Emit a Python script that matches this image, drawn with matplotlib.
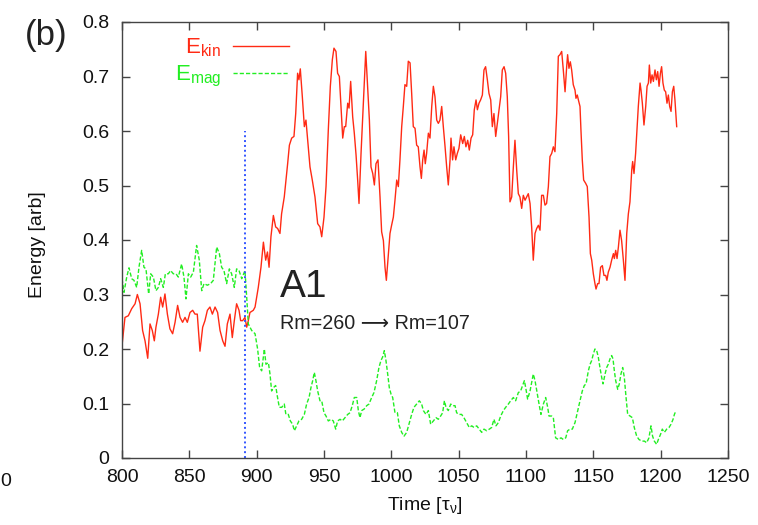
import matplotlib
matplotlib.use("Agg")
import matplotlib.pyplot as plt
from matplotlib.ticker import FuncFormatter

plt.rcParams["font.family"] = ["Liberation Sans", "DejaVu Sans"]
plt.rcParams["mathtext.fontset"] = "custom"
plt.rcParams["mathtext.rm"] = "Liberation Sans"
plt.rcParams["mathtext.it"] = "Liberation Sans:italic"

# ---- data ----
t_kin = [800.0, 802.2, 804.7, 807.2, 809.7, 811.4, 813.4, 815.3, 817.1, 819.1,
         820.8, 822.5, 824.0, 825.2, 827.0, 828.7, 830.2, 831.9, 833.7, 835.6,
         837.6, 839.4, 841.3, 843.1, 845.0, 846.8, 848.5, 850.5, 852.5, 854.2,
         855.9, 857.9, 859.9, 861.6, 863.4, 865.3, 867.1, 869.1, 871.0, 872.8,
         874.8, 876.5, 878.2, 880.2, 881.9, 883.4, 885.1, 886.9, 888.1, 889.6,
         891.3, 892.6, 893.8, 895.0, 897.5, 898.8, 901.2, 903.2, 905.0, 906.7,
         908.0, 909.2, 910.6, 912.4, 914.1, 915.6, 917.3, 918.5, 920.5, 921.8,
         923.0, 924.3, 926.0, 927.7, 929.0, 930.4, 931.4, 932.4, 933.9, 935.4,
         936.6, 937.9, 939.6, 941.3, 943.3, 945.3, 947.0, 948.3, 950.0, 951.5,
         953.2, 954.7, 956.2, 957.4, 958.9, 960.1, 961.4, 962.6, 963.9, 965.1,
         966.1, 967.6, 968.6, 969.8, 971.3, 972.5, 973.8, 975.0, 976.0, 977.5,
         979.2, 981.0, 982.4, 983.7, 984.9, 986.2, 987.4, 988.6, 990.1, 991.6,
         992.8, 994.1, 995.3, 996.3, 997.8, 999.0, 1000.2, 1001.5, 1002.7, 1004.0,
         1005.2, 1006.4, 1007.7, 1008.9, 1010.1, 1011.4, 1012.6, 1013.9, 1015.1, 1016.3,
         1017.6, 1018.8, 1020.0, 1021.3, 1022.3, 1023.3, 1024.3, 1025.2, 1026.2, 1027.5,
         1028.7, 1030.0, 1031.2, 1032.4, 1033.7, 1034.9, 1036.1, 1037.4, 1038.6, 1039.9,
         1041.1, 1042.3, 1043.6, 1044.3, 1045.5, 1046.5, 1047.8, 1049.0, 1050.2, 1051.5,
         1053.0, 1054.2, 1055.4, 1056.7, 1057.9, 1059.2, 1060.4, 1061.6, 1062.9, 1063.9,
         1065.1, 1066.3, 1067.6, 1068.8, 1070.0, 1071.3, 1072.5, 1073.8, 1075.0, 1076.2,
         1077.5, 1078.7, 1079.9, 1081.2, 1082.4, 1083.7, 1084.9, 1086.1, 1087.1, 1088.1,
         1089.4, 1090.6, 1091.8, 1093.1, 1094.3, 1095.5, 1096.8, 1098.0, 1099.3, 1100.5,
         1101.7, 1103.0, 1104.2, 1105.4, 1106.7, 1107.9, 1109.2, 1110.4, 1111.6, 1112.9,
         1114.1, 1115.3, 1116.6, 1117.8, 1119.1, 1120.3, 1121.5, 1122.8, 1124.0, 1125.2,
         1126.5, 1127.7, 1129.0, 1130.2, 1130.9, 1131.9, 1132.9, 1133.9, 1135.1, 1136.4,
         1137.1, 1138.1, 1138.9, 1140.1, 1140.8, 1141.8, 1142.8, 1144.3, 1145.5, 1146.8,
         1147.8, 1148.8, 1150.0, 1151.2, 1152.0, 1153.2, 1154.2, 1155.4, 1156.7, 1157.9,
         1159.2, 1160.1, 1161.1, 1162.4, 1163.6, 1164.9, 1165.6, 1166.6, 1167.6, 1168.6,
         1169.8, 1171.0, 1172.3, 1173.5, 1174.8, 1176.0, 1177.2, 1178.5, 1179.2, 1180.2,
         1181.4, 1182.4, 1183.4, 1184.7, 1185.4, 1186.4, 1187.6, 1188.9, 1189.9, 1190.9,
         1191.6, 1192.6, 1193.6, 1194.6, 1195.8, 1196.8, 1197.8, 1198.8, 1199.8, 1200.7,
         1201.7, 1202.7, 1203.7, 1204.7, 1205.7, 1206.7, 1207.7, 1208.7, 1209.7, 1210.6,
         1211.9]
e_kin = [0.206, 0.258, 0.261, 0.274, 0.283, 0.300, 0.283, 0.234, 0.215, 0.183,
         0.246, 0.234, 0.215, 0.240, 0.264, 0.295, 0.277, 0.301, 0.264, 0.237,
         0.228, 0.249, 0.280, 0.258, 0.249, 0.258, 0.249, 0.267, 0.271, 0.264,
         0.264, 0.196, 0.240, 0.252, 0.271, 0.277, 0.264, 0.277, 0.267, 0.234,
         0.215, 0.205, 0.246, 0.264, 0.221, 0.252, 0.283, 0.271, 0.252, 0.252,
         0.258, 0.240, 0.252, 0.267, 0.271, 0.277, 0.313, 0.350, 0.396, 0.363,
         0.378, 0.350, 0.406, 0.445, 0.424, 0.421, 0.412, 0.448, 0.479, 0.510,
         0.540, 0.574, 0.587, 0.590, 0.632, 0.706, 0.694, 0.714, 0.663, 0.608,
         0.620, 0.583, 0.534, 0.510, 0.479, 0.430, 0.424, 0.406, 0.442, 0.498,
         0.602, 0.682, 0.731, 0.752, 0.746, 0.706, 0.700, 0.645, 0.587, 0.608,
         0.608, 0.651, 0.642, 0.691, 0.626, 0.596, 0.556, 0.510, 0.467, 0.559,
         0.651, 0.746, 0.682, 0.620, 0.534, 0.522, 0.501, 0.540, 0.547, 0.479,
         0.415, 0.399, 0.350, 0.326, 0.375, 0.412, 0.427, 0.442, 0.473, 0.510,
         0.498, 0.547, 0.608, 0.645, 0.685, 0.682, 0.728, 0.725, 0.669, 0.608,
         0.605, 0.574, 0.571, 0.534, 0.513, 0.547, 0.565, 0.540, 0.559, 0.596,
         0.587, 0.645, 0.682, 0.663, 0.620, 0.614, 0.620, 0.645, 0.608, 0.571,
         0.534, 0.501, 0.547, 0.587, 0.547, 0.571, 0.547, 0.559, 0.568, 0.593,
         0.577, 0.590, 0.571, 0.583, 0.565, 0.587, 0.593, 0.639, 0.657, 0.639,
         0.651, 0.657, 0.666, 0.712, 0.718, 0.694, 0.669, 0.657, 0.608, 0.632,
         0.590, 0.614, 0.639, 0.663, 0.712, 0.718, 0.706, 0.663, 0.590, 0.470,
         0.479, 0.534, 0.583, 0.528, 0.485, 0.479, 0.458, 0.482, 0.473, 0.479,
         0.485, 0.467, 0.424, 0.363, 0.412, 0.421, 0.427, 0.418, 0.482, 0.482,
         0.464, 0.467, 0.498, 0.553, 0.559, 0.571, 0.562, 0.632, 0.737, 0.740,
         0.746, 0.712, 0.672, 0.718, 0.740, 0.715, 0.727, 0.712, 0.685, 0.675,
         0.660, 0.666, 0.657, 0.645, 0.602, 0.547, 0.510, 0.504, 0.498, 0.442,
         0.375, 0.363, 0.338, 0.320, 0.310, 0.320, 0.320, 0.350, 0.353, 0.335,
         0.335, 0.326, 0.341, 0.350, 0.363, 0.375, 0.366, 0.381, 0.366, 0.387,
         0.418, 0.399, 0.363, 0.326, 0.412, 0.448, 0.470, 0.528, 0.544, 0.522,
         0.559, 0.602, 0.645, 0.688, 0.675, 0.651, 0.611, 0.645, 0.682, 0.688,
         0.721, 0.688, 0.703, 0.691, 0.712, 0.694, 0.709, 0.682, 0.706, 0.718,
         0.688, 0.675, 0.672, 0.651, 0.666, 0.645, 0.636, 0.672, 0.682, 0.657,
         0.608]

t_mag = [800.0, 801.5, 803.5, 805.2, 807.2, 808.9, 810.9, 812.6, 814.6, 816.3,
         817.8, 819.8, 821.3, 823.3, 825.2, 827.0, 828.7, 830.7, 832.2, 834.4,
         836.1, 838.1, 840.1, 841.8, 844.3, 846.0, 847.5, 849.3, 851.0, 853.0,
         855.4, 857.4, 859.2, 860.9, 863.4, 865.8, 867.8, 870.3, 872.3, 874.0,
         875.7, 877.7, 879.7, 881.4, 883.4, 885.1, 886.9, 888.9, 891.3, 892.6,
         893.8, 896.3, 898.8, 900.7, 902.2, 903.7, 905.7, 906.9, 908.7, 909.9,
         911.1, 912.4, 914.1, 915.3, 916.8, 918.6, 920.5, 921.7, 923.5, 925.0,
         926.7, 928.0, 929.7, 931.4, 933.4, 935.4, 937.1, 938.9, 940.3, 941.6,
         942.8, 944.0, 945.3, 947.0, 948.3, 950.0, 951.5, 953.2, 955.2, 956.9,
         958.7, 960.1, 961.9, 963.6, 965.6, 967.6, 969.3, 971.0, 972.5, 974.3,
         975.5, 976.7, 978.0, 979.9, 981.7, 983.4, 985.4, 987.1, 989.1, 990.8,
         992.3, 993.5, 994.8, 996.0, 997.3, 998.5, 999.8, 1001.0, 1002.7, 1004.5,
         1005.9, 1007.7, 1009.4, 1011.4, 1013.4, 1015.1, 1016.8, 1018.8, 1020.8, 1022.5,
         1023.8, 1025.7, 1027.5, 1029.2, 1031.2, 1033.2, 1034.9, 1036.6, 1038.1, 1039.4,
         1040.6, 1042.3, 1044.1, 1045.5, 1047.3, 1048.5, 1050.2, 1052.2, 1053.9, 1055.9,
         1057.9, 1059.7, 1061.4, 1063.4, 1065.3, 1067.1, 1068.8, 1070.8, 1072.8, 1074.5,
         1076.2, 1077.7, 1079.5, 1081.2, 1083.2, 1084.9, 1086.9, 1088.6, 1090.6, 1092.3,
         1094.3, 1096.0, 1097.5, 1098.8, 1100.0, 1101.2, 1103.0, 1104.2, 1105.4, 1106.7,
         1108.4, 1109.9, 1111.1, 1112.9, 1114.6, 1116.1, 1117.1, 1119.1, 1120.3, 1122.0,
         1124.0, 1126.0, 1127.7, 1129.5, 1130.9, 1132.7, 1134.4, 1136.4, 1138.4, 1140.1,
         1141.8, 1143.3, 1144.6, 1146.3, 1147.6, 1148.8, 1150.0, 1151.2, 1152.5, 1153.7,
         1154.9, 1156.2, 1157.2, 1158.7, 1159.9, 1161.1, 1162.4, 1163.6, 1164.6, 1165.6,
         1166.6, 1168.1, 1169.3, 1170.5, 1171.8, 1173.0, 1174.3, 1175.5, 1177.2, 1179.0,
         1180.4, 1182.2, 1183.9, 1185.9, 1187.9, 1189.6, 1191.3, 1192.8, 1194.0, 1195.3,
         1197.0, 1198.3, 1200.0, 1201.2, 1202.7, 1204.5, 1206.2, 1207.7, 1209.2, 1210.2,
         1211.4]
e_mag = [0.329, 0.304, 0.332, 0.349, 0.329, 0.326, 0.313, 0.350, 0.381, 0.350,
         0.347, 0.301, 0.338, 0.332, 0.307, 0.313, 0.329, 0.313, 0.338, 0.338,
         0.344, 0.338, 0.338, 0.332, 0.356, 0.332, 0.292, 0.338, 0.332, 0.341,
         0.390, 0.363, 0.307, 0.320, 0.317, 0.320, 0.326, 0.387, 0.375, 0.350,
         0.344, 0.320, 0.347, 0.338, 0.313, 0.347, 0.344, 0.329, 0.344, 0.295,
         0.246, 0.234, 0.228, 0.200, 0.166, 0.160, 0.200, 0.172, 0.175, 0.154,
         0.123, 0.129, 0.133, 0.114, 0.093, 0.093, 0.099, 0.080, 0.080, 0.068,
         0.062, 0.050, 0.059, 0.068, 0.071, 0.080, 0.099, 0.111, 0.129, 0.142,
         0.157, 0.142, 0.123, 0.105, 0.105, 0.083, 0.077, 0.068, 0.071, 0.068,
         0.053, 0.068, 0.071, 0.068, 0.074, 0.080, 0.083, 0.096, 0.111, 0.111,
         0.087, 0.074, 0.087, 0.090, 0.096, 0.099, 0.111, 0.120, 0.142, 0.166,
         0.179, 0.185, 0.197, 0.179, 0.154, 0.129, 0.117, 0.111, 0.083, 0.083,
         0.059, 0.047, 0.040, 0.047, 0.065, 0.080, 0.093, 0.099, 0.105, 0.099,
         0.087, 0.080, 0.087, 0.062, 0.068, 0.074, 0.071, 0.077, 0.083, 0.105,
         0.093, 0.087, 0.099, 0.096, 0.096, 0.083, 0.080, 0.080, 0.074, 0.065,
         0.056, 0.059, 0.056, 0.059, 0.053, 0.047, 0.053, 0.050, 0.053, 0.056,
         0.071, 0.059, 0.065, 0.077, 0.087, 0.093, 0.099, 0.105, 0.111, 0.105,
         0.120, 0.123, 0.133, 0.142, 0.126, 0.108, 0.123, 0.139, 0.154, 0.142,
         0.117, 0.096, 0.080, 0.099, 0.111, 0.093, 0.077, 0.077, 0.074, 0.037,
         0.034, 0.037, 0.034, 0.037, 0.050, 0.053, 0.053, 0.065, 0.087, 0.105,
         0.123, 0.133, 0.136, 0.160, 0.172, 0.179, 0.191, 0.200, 0.197, 0.185,
         0.166, 0.148, 0.136, 0.154, 0.166, 0.172, 0.182, 0.188, 0.182, 0.160,
         0.142, 0.126, 0.136, 0.154, 0.166, 0.148, 0.111, 0.080, 0.077, 0.074,
         0.056, 0.040, 0.034, 0.031, 0.031, 0.028, 0.037, 0.059, 0.040, 0.031,
         0.025, 0.034, 0.044, 0.053, 0.047, 0.053, 0.056, 0.062, 0.071, 0.080,
         0.087]

t_switch = 891.0      # Rm change
switch_top = 0.6

x_ticks = [800, 850, 900, 950, 1000, 1050, 1100, 1150, 1200, 1250]
y_ticks = [0, 0.1, 0.2, 0.3, 0.4, 0.5, 0.6, 0.7, 0.8]

red = "#ff2a14"
green = "#22ee22"
blue = "#3355ff"

fig = plt.figure(figsize=(7.58, 5.25), dpi=100)
ax = fig.add_axes([122 / 758, 67 / 525, 606 / 758, 436 / 525])

ax.plot(t_kin, e_kin, color=red, lw=1.0, label=r"E$_{\mathrm{kin}}$")
ax.plot(t_mag, e_mag, color=green, lw=1.0, linestyle=(0, (3, 1.5)),
        label=r"E$_{\mathrm{mag}}$")
ax.vlines(t_switch, 0, switch_top, colors=blue, linestyles=(0, (1, 1.5)), lw=1.4)

ax.set_xlim(800, 1250)
ax.set_ylim(0, 0.8)
ax.set_xticks(x_ticks)
ax.set_yticks(y_ticks)
ax.yaxis.set_major_formatter(FuncFormatter(lambda v, p: f"{v:g}"))

ax.tick_params(direction="in", top=True, right=True, length=6, width=1,
               color="#444444", labelsize=14, labelcolor="#111111")
ax.tick_params(axis="x", pad=8)
ax.tick_params(axis="y", pad=9)
for s in ax.spines.values():
    s.set_color("#444444")
    s.set_linewidth(1.0)

ax.set_xlabel(r"Time [$\mathrm{\tau}_{\mathrm{\nu}}$]", fontsize=14, color="#111111")
ax.set_ylabel("Energy [arb]", fontsize=14, color="#111111")
ax.xaxis.set_label_coords(0.5, -0.085)
ax.yaxis.set_label_coords(-0.125, 0.49)

leg = ax.legend(loc="upper right", bbox_to_anchor=(0.308, 1.012), frameon=False,
                markerfirst=False, fontsize=16, handlelength=2.5,
                handletextpad=0.55, labelspacing=0.2, labelcolor="linecolor")

ax.text(917, 0.296, "A1", fontsize=28, color="#222222")
ax.text(917, 0.237, "Rm=260 \u27f6 Rm=107", fontsize=14.2, color="#222222")

fig.text(25 / 758, 1 - 45 / 525, "(b)", fontsize=25, color="#222222")
fig.text(0.5 / 758, 1 - 486 / 525, "0", fontsize=14, ha="left", color="#111111")

fig.savefig("out.png", dpi=100)
